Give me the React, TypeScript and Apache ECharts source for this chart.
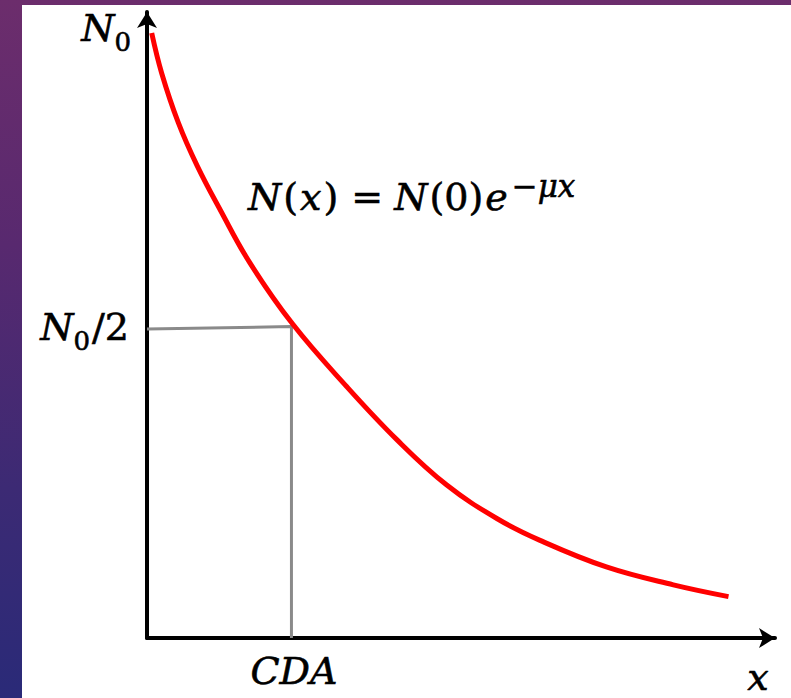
import React, { useEffect, useRef } from "react";
import * as echarts from "echarts";

// Curve N(x) (x: 0..100 along the axis, N: 0..100 of the axis height)
const curveX = [0.76, 2.37, 5.05, 8.1, 11.8, 16.6, 23.5, 32.2, 40.3, 48.3, 56.5, 63.4, 74.1, 84.9, 93.8];
const curveN = [97.9, 91.4, 83.4, 76.4, 69.3, 60.7, 50.8, 40.7, 32.1, 24.8, 19.3, 15.8, 11.5, 8.6, 6.7];

// Half-value guide (N0/2 at CDA)
const guideX = [0, 23.3, 23.3];
const guideN = [50.0, 50.4, 0];

const axisMin = 0;
const axisMax = 101.3;

const FONT = "DejaVu Serif";

export default function App() {
  const ref = useRef<HTMLDivElement>(null);

  useEffect(() => {
    document.body.style.margin = "0";
    const chart = echarts.init(ref.current!, undefined, { renderer: "svg" });
    const curve = curveX.map((x, i) => [x, curveN[i]]);
    const guide = guideX.map((x, i) => [x, guideN[i]]);

    const ink = { fill: "#000", stroke: "#000", lineWidth: 0.6 };
    const main = { fontFamily: FONT, fontSize: 38, fontStyle: "italic", lineHeight: 54, ...ink };
    const upWide = { fontFamily: FONT, fontSize: 38, lineHeight: 54, padding: [0, 2, 0, 2], ...ink };
    const eq = { fontFamily: FONT, fontSize: 38, lineHeight: 54, padding: [0, 11, 0, 11], ...ink };
    const sub = { fontFamily: FONT, fontSize: 26, lineHeight: 26, verticalAlign: "bottom", ...ink };
    const sup = {
      fontFamily: FONT,
      fontSize: 31,
      fontStyle: "italic",
      lineHeight: 31,
      verticalAlign: "top",
      padding: [0, 0, 0, 4],
      ...ink,
    };

    const axisLine = {
      show: true,
      onZero: false,
      lineStyle: { color: "#000", width: 4 },
      symbol: ["none", "arrow"],
      symbolSize: [15, 16],
    };

    const plainText = (text: string, x: number, y: number) => ({
      type: "text",
      x,
      y,
      z: 10,
      style: {
        text,
        align: "center",
        verticalAlign: "middle",
        fontFamily: FONT,
        fontSize: 38,
        fontStyle: "italic",
        fill: "#000",
        stroke: "#000",
        lineWidth: 0.6,
      },
    });

    chart.setOption({
      animation: false,
      backgroundColor: "transparent",
      grid: { left: 147, right: 16, top: 12, bottom: 60 },
      xAxis: {
        type: "value",
        min: axisMin,
        max: axisMax,
        axisLine,
        axisTick: { show: false },
        axisLabel: { show: false },
        splitLine: { show: false },
      },
      yAxis: {
        type: "value",
        min: axisMin,
        max: axisMax,
        axisLine,
        axisTick: { show: false },
        axisLabel: { show: false },
        splitLine: { show: false },
      },
      series: [
        {
          type: "line",
          data: guide,
          symbol: "none",
          lineStyle: { color: "#8a8a8a", width: 3 },
          z: 3,
        },
        {
          type: "line",
          data: curve,
          smooth: 0.4,
          symbol: "none",
          lineStyle: { color: "#ff0000", width: 5 },
          z: 4,
        },
      ],
      graphic: [
        {
          type: "text",
          x: 131,
          y: 28,
          z: 10,
          style: {
            text: "{n|N}{s|0}",
            align: "right",
            verticalAlign: "middle",
            rich: { n: main, s: sub },
          },
        },
        {
          type: "text",
          x: 131,
          y: 327,
          z: 10,
          style: {
            text: "{n|N}{s|0}{u|/2}",
            align: "right",
            verticalAlign: "middle",
            rich: { n: main, s: sub, u: upWide },
          },
        },
        {
          type: "text",
          x: 248,
          y: 197,
          z: 10,
          style: {
            text: "{i|N}{w|(}{i|x}{w|)}{e|=}{i|N}{w|(0)}{i|e}{p|−μx}",
            align: "left",
            verticalAlign: "middle",
            rich: { i: main, w: upWide, e: eq, p: sup },
          },
        },
        plainText("CDA", 294, 671),
        plainText("x", 758, 677),
      ],
    });
    return () => chart.dispose();
  }, []);

  return (
    <div
      style={{
        position: "fixed",
        left: 0,
        top: 0,
        width: 791,
        height: 698,
        background: "linear-gradient(180deg, #6c2d6c 0%, #58296f 35%, #3c2a74 70%, #2a2a78 100%)",
        overflow: "hidden",
      }}
    >
      <div style={{ position: "absolute", left: 22, top: 5, width: 769, height: 693, background: "#ffffff" }} />
      <div ref={ref} style={{ position: "absolute", left: 0, top: 0, width: 791, height: 698 }} />
    </div>
  );
}
